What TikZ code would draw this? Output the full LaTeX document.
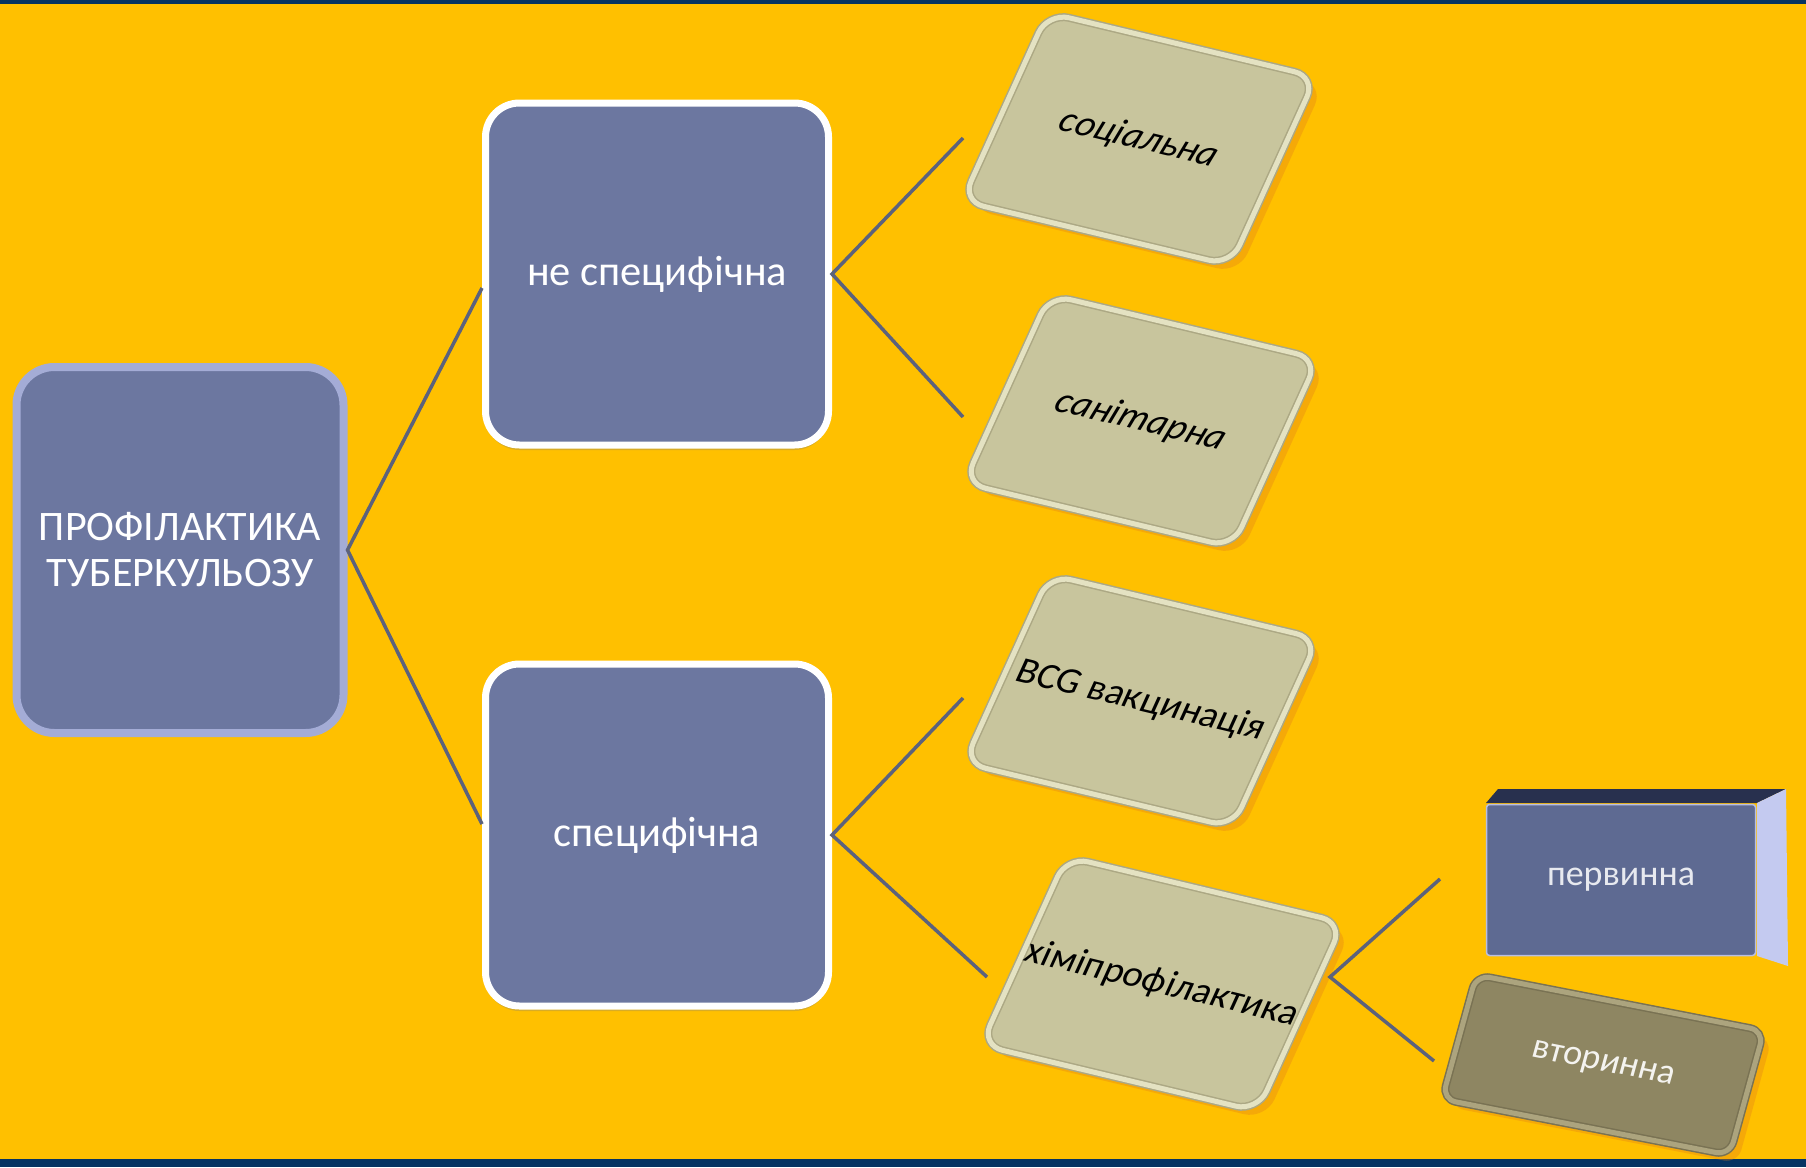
\documentclass[tikz,border=0pt]{standalone}
\usepackage{fontspec}
\setmainfont{Carlito}
\usetikzlibrary{shadows}

\definecolor{bgyellow}{RGB}{255,192,0}
\definecolor{bandnavy}{RGB}{6,52,98}
\definecolor{boxblue}{RGB}{108,119,160}
\definecolor{rimblue}{RGB}{164,172,214}
\definecolor{linkgray}{RGB}{92,98,124}
\definecolor{tilefill}{RGB}{200,197,157}
\definecolor{tilerim}{RGB}{228,226,194}
\definecolor{tileedge}{RGB}{172,168,132}
\definecolor{olivefill}{RGB}{142,134,98}
\definecolor{oliverim}{RGB}{172,164,126}
\definecolor{faceblue}{RGB}{94,106,146}
\definecolor{facerim}{RGB}{184,190,226}
\definecolor{topnavy}{RGB}{40,48,78}
\definecolor{sidelav}{RGB}{196,202,240}

\begin{document}
\begin{tikzpicture}[x=1pt, y=-1pt,
        link/.style={draw=linkgray, line width=3.5pt},
        rootbox/.style={rectangle, rounded corners=38pt, fill=boxblue, draw=rimblue, line width=8pt,
            minimum width=327pt, minimum height=366pt, text=white, align=center,
            font=\fontsize{42}{46}\selectfont},
        mainbox/.style={rectangle, rounded corners=34pt, fill=boxblue, draw=white, line width=7pt,
            minimum width=343pt, minimum height=342pt, text=white, font=\fontsize{42.5}{48}\selectfont,
            drop shadow={shadow xshift=0pt, shadow yshift=-5pt, opacity=0.3}},
        tile/.style={rectangle, rounded corners=22pt, fill=tilefill, draw=tileedge, line width=1.5pt,
            double=tilerim, double distance=5pt, font=\fontsize{38}{44}\selectfont,
            drop shadow={shadow xshift=8pt, shadow yshift=-8pt, fill=orange!60!brown, opacity=0.35}},
        tilted/.style={cm={0.9725,-0.2326,0.4134,0.9104,(0,0)}, minimum width=276pt, minimum height=207pt},
        tiltedlow/.style={cm={0.9816,-0.191,0.2656,0.964,(0,0)}, minimum width=293pt, minimum height=129pt},
        frontbox/.style={rectangle, rounded corners=3pt, fill=faceblue, draw=facerim, line width=1.5pt,
            minimum width=269pt, minimum height=151pt, text=white!85!faceblue,
            font=\fontsize{36}{42}\selectfont}]

        \useasboundingbox (0,0) rectangle (1806,1167);

        % Background
        \fill[bgyellow] (0,0) rectangle (1806,1167);
        \fill[bandnavy] (0,0) rectangle (1806,4);
        \fill[bandnavy] (0,1159) rectangle (1806,1167);

        % Root
        \node[rootbox] (root) at (180,550) {ПРОФІЛАКТИКА\\ТУБЕРКУЛЬОЗУ};

        % Second level
        \node[mainbox] (nonspec) at (657,274) {не специфічна};
        \node[mainbox] (spec) at (657,835) {специфічна};

        % Third level
        \foreach \name/\x/\y/\txt in {soc/1139/139/{\itshape соціальна}, san/1141/421/{\itshape санітарна},
                bcg/1141/701/BCG вакцинація, chem/1162/984/хіміпрофілактика}
            \node[tile, tilted] (\name) at (\x,\y) {\txt};

        % Fourth level
        \fill[topnavy] (1486,803) -- (1498,789) -- (1786,789) -- (1757,803) -- cycle;
        \fill[sidelav] (1757,803) -- (1786,789) -- (1788,966) -- (1757,956) -- cycle;
        \node[frontbox] (prim) at (1621,880) {первинна};
        \node[tile, tiltedlow, rounded corners=14pt, fill=olivefill, draw=olivefill!85!black, double=oliverim,
            text=white!90!olivefill, font=\fontsize{36}{42}\selectfont] (sec) at (1603,1065) {вторинна};

        % Connectors
        \coordinate (soc-in) at (963,138);
        \coordinate (san-in) at (963,417);
        \coordinate (bcg-in) at (963,698);
        \coordinate (chem-in) at (987,977);
        \coordinate (chem-out) at (1330,977);
        \coordinate (prim-in) at (1440,879);
        \coordinate (sec-in) at (1434,1061);

        \draw[link] ([yshift=-14pt]nonspec.west) -- (root.east) -- ([yshift=11pt]spec.west);
        \draw[link] (soc-in) -- (nonspec.east) -- (san-in);
        \draw[link] (bcg-in) -- (spec.east) -- (chem-in);
        \draw[link] (prim-in) -- (chem-out) -- (sec-in);
\end{tikzpicture}
\end{document}
